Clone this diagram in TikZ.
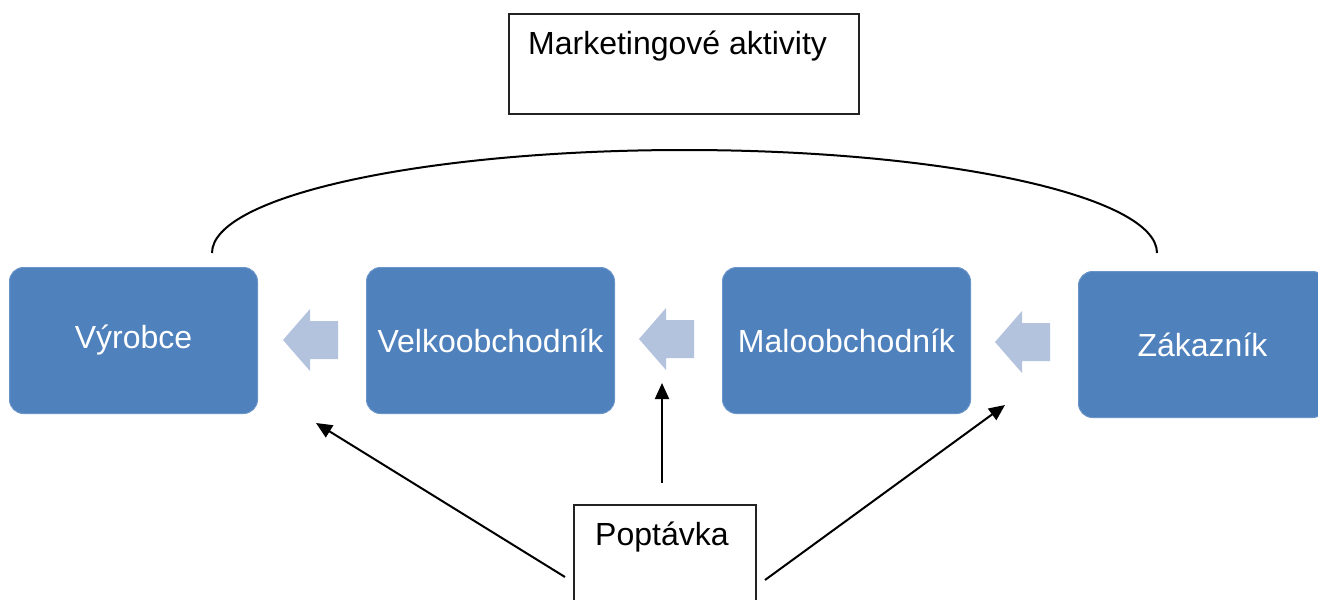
\documentclass[tikz,border=0pt]{standalone}
\usepackage{fontspec}
\setmainfont{Liberation Sans}
\usetikzlibrary{arrows.meta}
\definecolor{boxblue}{HTML}{4F81BD}
\definecolor{arrowblue}{HTML}{B3C2DD}
\definecolor{edgegray}{HTML}{222222}
\begin{document}
\begin{tikzpicture}[x=1pt,y=-1pt,
  bluebox/.style={fill=boxblue, draw=boxblue!85!white, line width=1pt, rounded corners=14pt,
    minimum width=248pt, minimum height=146pt, inner sep=0pt, anchor=north west,
    text=white, font=\fontsize{32}{38}\selectfont},
  framebox/.style={draw=edgegray, line width=1.5pt, fill=white, anchor=north west, inner sep=0pt},
  plain/.style={font=\fontsize{32}{38}\selectfont, inner sep=0pt, anchor=base west},
  conn/.style={line width=2pt, -{Triangle[length=16pt,width=14pt]}},
  larrow/.pic={\fill[arrowblue] (0,0) -- (27,-31) -- (27,-19) -- (55,-19) -- (55,19) -- (27,19) -- (27,31) -- cycle;}
]
\useasboundingbox (0,0) rectangle (1318,600);
\clip (0,0) rectangle (1318,600);

% boxes
\node[bluebox] (vyr) at (9,267) {\raisebox{-3pt}{Výrobce}};
\node[bluebox] (velk) at (366,267) {\raisebox{-2pt}{Velkoobchodník}};
\node[bluebox] (malo) at (722,267) {\raisebox{-1pt}{Maloobchodník}};
\node[bluebox] (zak) at (1078,271) {Zákazník};

% block arrows
\pic at (283,340) {larrow};
\pic at (639,339) {larrow};
\pic at (995,342) {larrow};

% marketing box
\node[framebox, minimum width=350pt, minimum height=100pt] (mkt) at (508,13) {};
\node[plain] (mkttext) at (528,54) {Marketingové aktivity};

% arc
\coordinate (arcL) at (212,253);
\coordinate (arcR) at (1157,253);
\draw[line width=2pt] (arcL) arc[start angle=180, end angle=0, x radius=472.5, y radius=-103];

% poptavka box
\node[framebox, minimum width=182pt, minimum height=120pt] (pop) at (573,504) {};
\node[plain] (poptext) at (595,545) {Poptávka};

% demand arrows
\coordinate (s1) at (565,577);
\coordinate (e1) at (316,423);
\coordinate (s2) at (662,483);
\coordinate (e2) at (662,383);
\coordinate (s3) at (765,580);
\coordinate (e3) at (1005,405);
\draw[conn] (s1) -- (e1);
\draw[conn] (s2) -- (e2);
\draw[conn] (s3) -- (e3);
\end{tikzpicture}
\end{document}
